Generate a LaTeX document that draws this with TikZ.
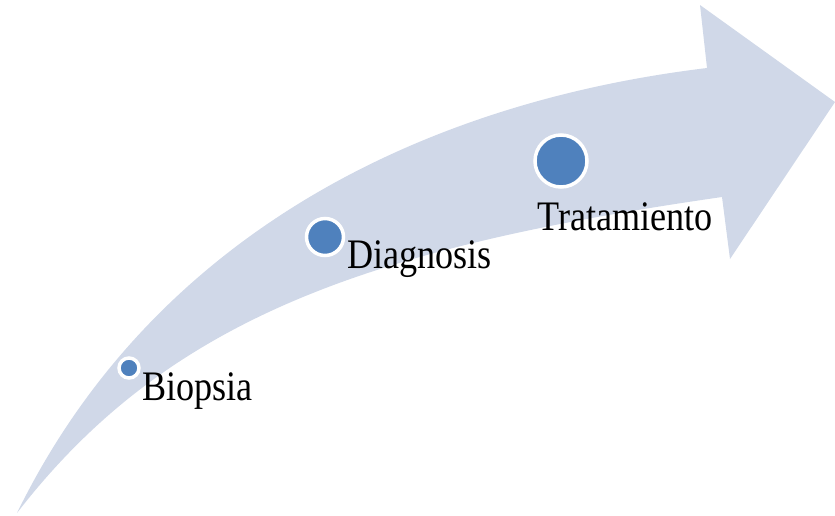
\documentclass[tikz,border=0pt]{standalone}
\usepackage{fontspec}
\setmainfont[FakeStretch=0.86]{Liberation Serif}
\definecolor{arrowfill}{HTML}{D0D8E8}
\definecolor{dotblue}{HTML}{4F81BD}
\begin{document}
\begin{tikzpicture}[x=1pt,y=-1pt,
  dot/.style={circle,fill=dotblue,draw=white,line width=3.5pt,inner sep=0pt},
  label/.style={anchor=base west,inner sep=0pt,font=\fontsize{42}{46}\selectfont,text=black}]
\useasboundingbox (0,0) rectangle (835,515);
% curved arrow body
\fill[arrowfill] (17,513) .. controls (149,243) and (410,104) .. (707,68)
  -- (700,5) -- (835,102) -- (730,259) -- (722,197)
  .. controls (375,247) and (169.5,315.5) .. (17,513) -- cycle;
% dots
\node[dot,minimum size=20pt] (d1) at (129,368) {};
\node[dot,minimum size=37pt] (d2) at (325,237) {};
\node[dot,minimum size=52pt] (d3) at (561,161) {};
% labels
\node[label] (t1) at (142,400) {Biopsia};
\node[label] (t2) at (347,268) {Diagnosis};
\node[label] (t3) at (537,230) {Tratamiento};
\end{tikzpicture}
\end{document}
